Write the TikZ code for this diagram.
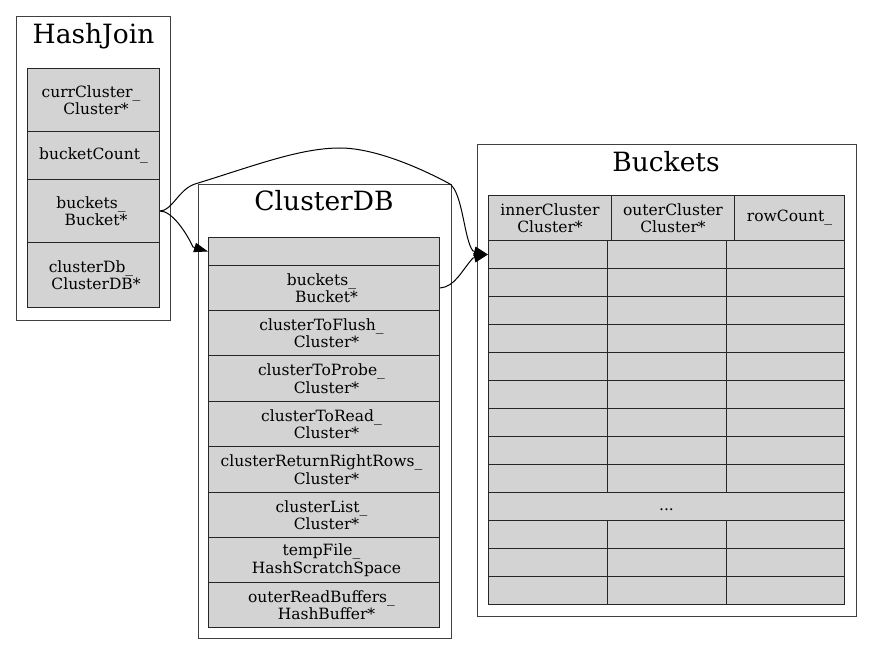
\documentclass[tikz,border=0pt]{standalone}
\usepackage{fontspec}
\setmainfont{DejaVu Serif}
\usetikzlibrary{arrows.meta}
\definecolor{lgray}{HTML}{D3D3D3}
\newcommand{\cellfont}{\fontsize{15.5}{17.5}\selectfont}
\newcommand{\titlefont}{\fontsize{26.5}{30}\selectfont}
\newcommand{\twol}[2]{#1\hspace*{5pt}\\\hspace*{5pt}#2}
\tikzset{
  clusterbox/.style={draw=black!75, line width=1pt, fill=white, inner sep=0pt, anchor=north west},
  cell/.style={draw=black!85, line width=1pt, fill=lgray, inner sep=0pt, anchor=north west, align=center, font=\cellfont},
  ctitle/.style={anchor=base, inner sep=0pt, font=\titlefont},
  edge/.style={draw=black, line width=1pt, -{Triangle[length=14pt,width=9.5pt]}}
}
\begin{document}
\begin{tikzpicture}[x=1pt,y=-1pt]
\useasboundingbox[fill=white] (0,0) rectangle (872,655);

% clusters
\node[clusterbox, minimum width=154, minimum height=304] (hashjoin) at (16,16) {};
\node[ctitle] (hjtitle) at (93.5,43.7) {HashJoin};
\node[clusterbox, minimum width=253, minimum height=454] (clusterdb) at (198,184) {};
\node[ctitle] (cdbtitle) at (324,211) {ClusterDB};
\node[clusterbox, minimum width=379, minimum height=472] (buckets) at (477,144) {};
\node[ctitle] (bktitle) at (666,171.5) {Buckets};

% HashJoin table
\node[cell, minimum width=132, minimum height=63] (hj1) at (27,68) {\twol{currCluster\_}{Cluster*}};
\node[cell, minimum width=132, minimum height=48] (hj2) at (27,131) {bucketCount\_};
\node[cell, minimum width=132, minimum height=63] (hj3) at (27,179) {\twol{buckets\_}{Bucket*}};
\node[cell, minimum width=132, minimum height=65] (hj4) at (27,242) {\twol{clusterDb\_}{ClusterDB*}};

% ClusterDB table
\node[cell, minimum width=231, minimum height=28] (cdb0) at (208,237) {};
\node[cell, minimum width=231, minimum height=45] (cdb1) at (208,265) {\twol{buckets\_}{Bucket*}};
\node[cell, minimum width=231, minimum height=45] (cdb2) at (208,310) {\twol{clusterToFlush\_}{Cluster*}};
\node[cell, minimum width=231, minimum height=46] (cdb3) at (208,355) {\twol{clusterToProbe\_}{Cluster*}};
\node[cell, minimum width=231, minimum height=45] (cdb4) at (208,401) {\twol{clusterToRead\_}{Cluster*}};
\node[cell, minimum width=231, minimum height=46] (cdb5) at (208,446) {\twol{clusterReturnRightRows\_}{Cluster*}};
\node[cell, minimum width=231, minimum height=45] (cdb6) at (208,492) {\twol{clusterList\_}{Cluster*}};
\node[cell, minimum width=231, minimum height=45] (cdb7) at (208,537) {\twol{tempFile\_}{HashScratchSpace}};
\node[cell, minimum width=231, minimum height=45] (cdb8) at (208,582) {\twol{outerReadBuffers\_}{HashBuffer*}};

% Buckets table
\node[cell, minimum width=123, minimum height=45] (bh1) at (488,195) {innerCluster\\Cluster*};
\node[cell, minimum width=123, minimum height=45] (bh2) at (611,195) {outerCluster\\Cluster*};
\node[cell, minimum width=110, minimum height=45] (bh3) at (734,195) {rowCount\_};
\foreach \i in {1,...,9} {
  \pgfmathsetmacro{\yy}{240+28*(\i-1)}
  \node[cell, minimum width=119, minimum height=28] (b\i c1) at (488,\yy) {};
  \node[cell, minimum width=119, minimum height=28] (b\i c2) at (607,\yy) {};
  \node[cell, minimum width=118, minimum height=28] (b\i c3) at (726,\yy) {};
}
\node[cell, minimum width=356, minimum height=28] (bdots) at (488,492) {\vphantom{Ag}...};
\foreach \i in {10,11,12} {
  \pgfmathsetmacro{\yy}{520+28*(\i-10)}
  \node[cell, minimum width=119, minimum height=28] (b\i c1) at (488,\yy) {};
  \node[cell, minimum width=119, minimum height=28] (b\i c2) at (607,\yy) {};
  \node[cell, minimum width=118, minimum height=28] (b\i c3) at (726,\yy) {};
}

% edges
\draw[edge] (hj3.east) .. controls (172,211) and (186,232) .. (193,247) -- (cdb0.west);
\draw[edge] (hj3.east) .. controls (172,211) and (179,189) .. (195,184)
  .. controls (255,165.5) and (300,148) .. (340,148)
  .. controls (378,148) and (428,172) .. (450,184)
  .. controls (463,194) and (464,240) .. (473,251) -- (b1c1.west);
\draw[edge] (cdb1.east) .. controls (455,287) and (462,270) .. (473,258) -- (b1c1.west);
\end{tikzpicture}
\end{document}
